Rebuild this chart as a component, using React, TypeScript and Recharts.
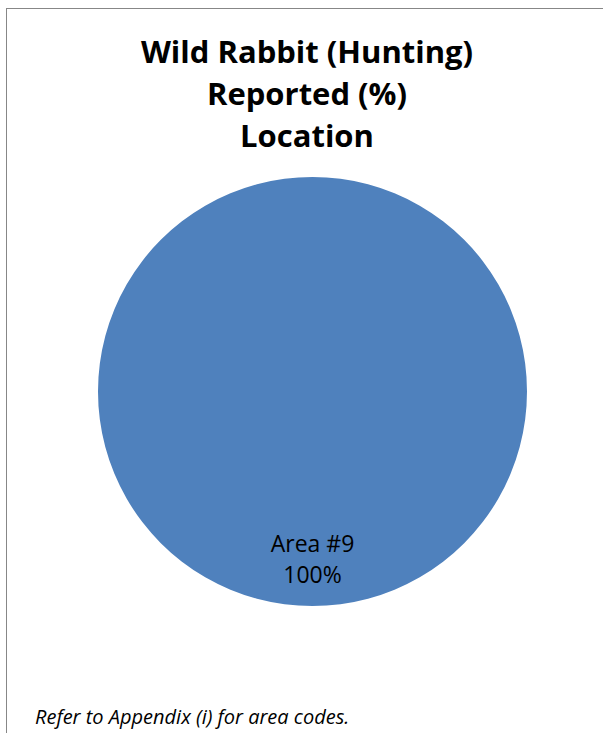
import React from "react";
import { PieChart, Pie, Cell } from "recharts";

const categories = ["Area #9"];
const values = [100];
const titleLines = ["Wild Rabbit (Hunting)", "Reported (%)", "Location"];
const footnote = "Refer to Appendix (i) for area codes.";
const colors = ["#4F81BD"];

const data = categories.map((name, i) => ({ name, value: values[i] }));

const renderLabel = (props: any) => {
  const { cx, cy, outerRadius, name, percent } = props;
  const y = cy + outerRadius * 0.748;
  return (
    <text
      x={cx}
      y={y}
      textAnchor="middle"
      fill="#000"
      fontFamily="'Open Sans', 'Noto Sans', sans-serif"
      fontSize={23}
    >
      <tspan x={cx} dy={0}>{name}</tspan>
      <tspan x={cx} dy={31}>{`${Math.round(percent * 100)}%`}</tspan>
    </text>
  );
};

export default function App() {
  return (
    <div style={{ position: "absolute", left: 0, top: 0, width: 603, height: 733, background: "#fff", overflow: "hidden" }}>
      <div
        style={{
          position: "absolute",
          left: 6,
          top: 8,
          width: 620,
          height: 760,
          borderLeft: "1.5px solid #878787",
          borderTop: "1.5px solid #878787",
        }}
      />
      <div
        style={{
          position: "absolute",
          left: 0,
          top: 30,
          width: 614,
          textAlign: "center",
          fontFamily: "'Open Sans', 'Noto Sans', sans-serif",
          fontWeight: 700,
          fontSize: 31,
          lineHeight: "42px",
          color: "#000",
        }}
      >
        {titleLines.map((t, i) => (
          <div key={i}>{t}</div>
        ))}
      </div>
      <div style={{ position: "absolute", left: 0, top: 0 }}>
        <PieChart width={603} height={733} margin={{ top: 0, right: 0, bottom: 0, left: 0 }}>
          <Pie
            data={data}
            dataKey="value"
            nameKey="name"
            cx={312.5}
            cy={391.5}
            outerRadius={214.5}
            startAngle={90}
            endAngle={-270}
            stroke="none"
            label={renderLabel}
            labelLine={false}
            isAnimationActive={false}
          >
            {data.map((d, i) => (
              <Cell key={d.name} fill={colors[i % colors.length]} />
            ))}
          </Pie>
        </PieChart>
      </div>
      <div
        style={{
          position: "absolute",
          left: 35,
          top: 703,
          fontFamily: "'Open Sans', 'Noto Sans', sans-serif",
          fontStyle: "italic",
          fontSize: 20,
          color: "#000",
          whiteSpace: "nowrap",
        }}
      >
        {footnote}
      </div>
    </div>
  );
}
